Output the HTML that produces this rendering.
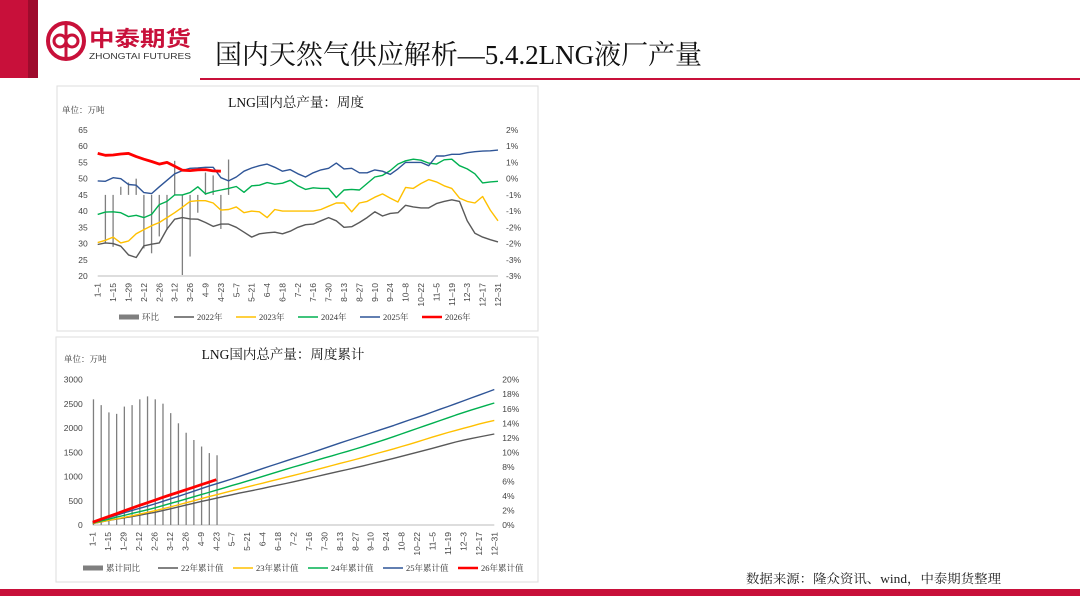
<!DOCTYPE html>
<html><head><meta charset="utf-8"><style>
body{margin:0;background:#fff;}
svg{display:block;font-family:"Liberation Sans","Noto Sans CJK SC",sans-serif;}
.cn{font-family:"Liberation Serif","Noto Serif CJK SC",serif;}
</style></head><body>
<svg id="root" width="1080" height="608" viewBox="0 0 1080 608" xmlns="http://www.w3.org/2000/svg">
<rect x="0" y="0" width="1080" height="608" fill="#fff"/>
<rect x="0" y="0" width="30" height="78" fill="#c8103a"/>
<rect x="28" y="0" width="10" height="78" fill="#9e0b2d"/>
<g>
<circle cx="66" cy="41" r="18" fill="none" stroke="#c8103a" stroke-width="4"/>
<circle cx="60" cy="41" r="6" fill="none" stroke="#c8103a" stroke-width="3"/>
<circle cx="72" cy="41" r="6" fill="none" stroke="#c8103a" stroke-width="3"/>
<line x1="66" y1="25" x2="66" y2="57" stroke="#c8103a" stroke-width="3"/>
<text x="89" y="46" font-size="21" font-weight="bold" fill="#c8103a" textLength="102" lengthAdjust="spacingAndGlyphs">中泰期货</text>
<text x="89" y="59" font-size="8" fill="#333" textLength="102" lengthAdjust="spacingAndGlyphs">ZHONGTAI FUTURES</text>
</g>
<text class="cn" x="215" y="64" font-size="27" fill="#111" textLength="487" lengthAdjust="spacingAndGlyphs">国内天然气供应解析—5.4.2LNG液厂产量</text>
<rect x="200" y="78" width="880" height="2" fill="#c8103a"/>
<rect x="57" y="86" width="481" height="245" fill="none" stroke="#ddd"/>
<rect x="56" y="337" width="482" height="245" fill="none" stroke="#ddd"/>
<g id="c1"></g>
<g id="c2"></g>
<text class="cn" x="746" y="583" font-size="12.5" fill="#222" textLength="255" lengthAdjust="spacingAndGlyphs">数据来源：隆众资讯、wind，中泰期货整理</text>
<rect x="0" y="589" width="1080" height="7" fill="#c8103a"/>
</svg>
<script>
const weekLabels=["1-1","1-15","1-29","2-12","2-26","3-12","3-26","4-9","4-23","5-7","5-21","6-4","6-18","7-2","7-16","7-30","8-13","8-27","9-10","9-24","10-8","10-22","11-5","11-19","12-3","12-17","12-31"];
const y2022=[29.7,30.2,30.0,29.2,26.5,25.7,29.3,29.8,30.2,34.5,37.5,38.0,37.6,37.5,36.5,35.3,36.0,36.0,35.0,33.5,32.0,33.0,33.3,33.5,33.0,33.8,35.0,35.8,36.0,37.0,38.0,37.0,35.0,35.2,36.5,38.0,39.8,38.5,39.3,39.5,41.8,41.3,41.0,41.0,42.3,43.0,43.5,43.0,37.0,33.2,32.0,31.2,30.5];
const y2023=[30.3,31.0,32.0,30.2,30.8,33.0,34.3,35.5,36.5,38.0,39.5,41.2,43.0,43.2,43.2,42.5,40.3,40.5,41.3,39.5,40.0,39.8,38.0,40.5,40.0,40.0,40.0,40.0,40.0,40.5,41.5,42.5,42.5,39.8,42.5,43.0,44.3,45.3,44.0,42.8,47.3,47.0,48.5,49.7,49.0,47.8,47.0,44.0,43.0,42.5,44.5,40.3,37.0];
const y2024=[39.0,39.7,39.8,39.5,38.3,38.7,38.0,39.0,42.0,43.0,45.0,45.0,45.7,47.5,45.3,46.0,46.5,47.0,47.6,45.8,47.8,48.0,48.8,48.3,48.6,49.5,47.8,46.7,47.2,47.0,47.0,44.2,46.5,46.7,46.5,48.5,50.5,51.0,52.5,54.5,55.5,56.0,55.7,54.8,54.5,55.8,56.0,54.0,53.0,51.5,48.7,49.0,49.2];
const y2025=[49.3,49.2,50.3,50.0,48.2,48.0,45.7,45.4,47.5,49.5,51.5,52.5,53.2,53.3,53.5,53.5,50.3,49.3,50.5,52.3,53.3,54.0,54.5,53.5,52.3,52.8,51.5,50.5,51.8,52.7,53.2,54.8,53.0,53.2,51.8,51.8,52.7,52.3,51.3,53.0,55.0,55.0,55.0,54.0,57.0,57.0,57.5,57.5,58.0,58.3,58.5,58.6,58.8];
const y2026=[57.8,57.2,57.3,57.6,57.8,56.8,56.0,55.3,54.5,55.0,53.8,52.6,52.5,52.7,52.8,52.4,52.3];
const weeklyChange=[null,-1.5,-1.6,0.25,0.38,0.5,-1.65,-1.8,-1.28,-1.08,1.05,-2.47,-1.9,-0.55,0.69,0.6,-1.05,1.09];
const cumYoY=[17.3,16.5,15.5,15.3,16.3,16.5,17.3,17.7,17.3,16.7,15.4,14.0,12.7,11.7,10.8,9.9,9.6];
const leftTicks1=[20,25,30,35,40,45,50,55,60,65];
const rightTicks1=[-2.5,-2,-1.5,-1,-0.5,0,0.5,1,1.5,2];
const rightLabels1=["-3%","-3%","-2%","-2%","-1%","-1%","0%","1%","1%","2%"];
const leftTicks2=[0,500,1000,1500,2000,2500,3000];
const rightTicks2=[0,2,4,6,8,10,12,14,16,18,20];
const NS="http://www.w3.org/2000/svg";
function mk(parent,tag,attrs,txt){const e=document.createElementNS(NS,tag);for(const k in attrs)e.setAttribute(k,attrs[k]);if(txt!=null)e.textContent=txt;parent.appendChild(e);return e;}
function cumsum(a){let s=0;return a.map(v=>s+=v);}
function drawChart(g,cfg){
  const xs=i=>cfg.x0+(cfg.x1-cfg.x0)*i/52;
  const yl=v=>cfg.yb+(cfg.yt-cfg.yb)*(v-cfg.lmin)/(cfg.lmax-cfg.lmin);
  const yr=v=>cfg.yb+(cfg.yt-cfg.yb)*(v-cfg.rmin)/(cfg.rmax-cfg.rmin);
  const t=mk(g,'text',{x:cfg.titleX,y:cfg.titleY,'font-size':13.5,'text-anchor':'middle',fill:'#111',class:'cn'},cfg.title);
  
  
  const u=mk(g,'text',{x:cfg.unitX,y:cfg.unitY,'font-size':8.5,fill:'#333',class:'cn'},'单位：万吨');
  
  
  cfg.lticks.forEach(v=>{
    const l=mk(g,'text',{x:cfg.x0-10,y:yl(v)+3,'font-size':8.5,'text-anchor':'end',fill:'#444'},v);
    
    
  });
  cfg.rticks.forEach((v,i)=>{
    const l=mk(g,'text',{x:cfg.x1+8,y:yr(v)+3,'font-size':8.5,fill:'#444'},cfg.rlabels[i]);
    
    
  });
  const ax=mk(g,'line',{x1:cfg.x0,x2:cfg.x1,y1:cfg.yb,y2:cfg.yb,stroke:'#bbb','stroke-width':1});
  
  
  weekLabels.forEach((s,i)=>{
    const x=xs(i*2)+3,y=cfg.yb+7;
    const l=mk(g,'text',{x:x,y:y,'font-size':8.5,'text-anchor':'end',fill:'#444',transform:`rotate(-90 ${x} ${y})`},s.replace('-','–'));
    
    
  });
  cfg.bars.forEach((v,i)=>{if(v==null)return;
    const b=mk(g,'line',{x1:xs(i+cfg.barOff),x2:xs(i+cfg.barOff),y1:yr(cfg.barBase),y2:yr(v),stroke:'#7f7f7f','stroke-width':1.3});
    
    
  });
  cfg.series.forEach(s=>{
    const p=mk(g,'polyline',{points:s.d.map((v,i)=>xs(i).toFixed(1)+','+yl(v).toFixed(1)).join(' '),fill:'none',stroke:s.c,'stroke-width':s.w,'stroke-linejoin':'round'});
    
    
  });
  let lx=cfg.legX;
  cfg.legend.forEach(e=>{
    const lg=mk(g,'g',{});
    
    
    mk(lg,'line',{x1:lx,x2:lx+20,y1:cfg.legY-3,y2:cfg.legY-3,stroke:e.c,'stroke-width':e.w});
    mk(lg,'text',{x:lx+23,y:cfg.legY,'font-size':8.5,fill:'#333',class:'cn'},e.t);
    lx+=e.sp;
  });
}
drawChart(document.getElementById('c1'),{x0:97.7,x1:498,yt:130,yb:276,lmin:20,lmax:65,rmin:-2.5,rmax:2,
  title:'LNG国内总产量：周度',titleX:296,titleY:107,unitX:62,unitY:113,
  lticks:leftTicks1,rticks:rightTicks1,rlabels:rightLabels1,bars:weeklyChange,barOff:0,barBase:0,
  series:[{d:y2022,c:'#595959',w:1.4,n:'line-2022'},{d:y2023,c:'#ffc000',w:1.4,n:'line-2023'},{d:y2024,c:'#00b050',w:1.4,n:'line-2024'},{d:y2025,c:'#2f5597',w:1.4,n:'line-2025'},{d:y2026,c:'#ff0000',w:2.8,n:'line-2026'}],
  legX:119,legY:320,legend:[{t:'环比',c:'#7f7f7f',w:5,sp:55},{t:'2022年',c:'#595959',w:1.5,sp:62},{t:'2023年',c:'#ffc000',w:1.5,sp:62},{t:'2024年',c:'#00b050',w:1.5,sp:62},{t:'2025年',c:'#2f5597',w:1.5,sp:62},{t:'2026年',c:'#ff0000',w:2.5,sp:62}]});
drawChart(document.getElementById('c2'),{x0:92.7,x1:494.3,yt:379.7,yb:525,lmin:0,lmax:3000,rmin:0,rmax:20,
  title:'LNG国内总产量：周度累计',titleX:283,titleY:359,unitX:64,unitY:362,
  lticks:leftTicks2,rticks:rightTicks2,rlabels:rightTicks2.map(v=>v+'%'),bars:cumYoY,barOff:0.1,barBase:0,
  series:[{d:cumsum(y2022),c:'#595959',w:1.4,n:'cum-2022'},{d:cumsum(y2023),c:'#ffc000',w:1.4,n:'cum-2023'},{d:cumsum(y2024),c:'#00b050',w:1.4,n:'cum-2024'},{d:cumsum(y2025),c:'#2f5597',w:1.4,n:'cum-2025'},{d:cumsum(y2026),c:'#ff0000',w:2.8,n:'cum-2026'}],
  legX:83,legY:571,legend:[{t:'累计同比',c:'#7f7f7f',w:5,sp:75},{t:'22年累计值',c:'#595959',w:1.5,sp:75},{t:'23年累计值',c:'#ffc000',w:1.5,sp:75},{t:'24年累计值',c:'#00b050',w:1.5,sp:75},{t:'25年累计值',c:'#2f5597',w:1.5,sp:75},{t:'26年累计值',c:'#ff0000',w:2.5,sp:75}]});
</script>
</body></html>
